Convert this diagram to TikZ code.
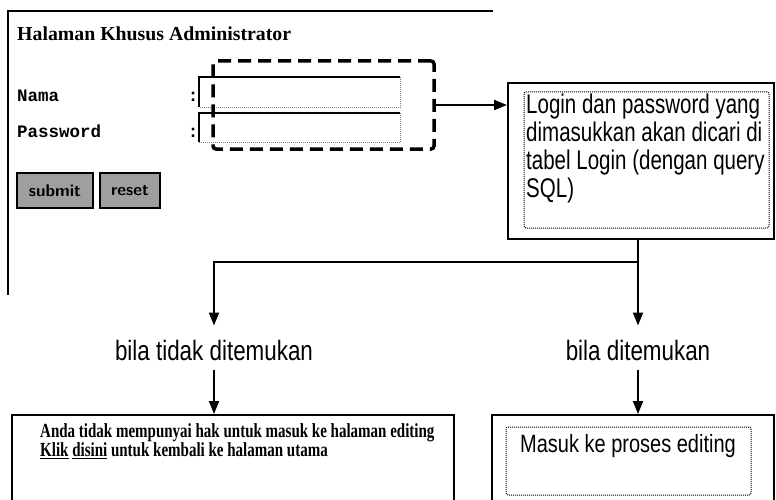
\documentclass[tikz,border=0pt]{standalone}
\usepackage{fontspec}
\setmainfont{Liberation Serif}
\newfontfamily\narrowsans[FakeStretch=0.8]{Liberation Sans}
\newfontfamily\boxsans[FakeStretch=0.76]{Liberation Sans}
\newfontfamily\formmono{Liberation Mono}
\newfontfamily\condserif[FakeStretch=0.75]{Liberation Serif}
\usetikzlibrary{arrows.meta,positioning}

\begin{document}
\begin{tikzpicture}[x=1pt,y=-1pt,
  every node/.style={inner sep=0pt},
  line/.style={line width=2pt},
  flow/.style={line width=2pt,-{Triangle[length=13pt,width=10pt]}},
  outerbox/.style={draw,line width=2pt},
  innerbox/.style={draw,densely dotted,line width=1pt,rounded corners=2pt},
  dashbox/.style={draw,line width=3.5pt,dash pattern=on 13pt off 7pt,rounded corners=3pt},
  field/.style={minimum width=201pt,minimum height=30pt},
  formfont/.style={font=\formmono\bfseries\fontsize{17.5}{18}\selectfont},
  button/.style={draw,line width=1.5pt,fill=gray!75,minimum height=35pt,font=\sffamily\bfseries\fontsize{17}{17}\selectfont},
  casetext/.style={font=\narrowsans\fontsize{28}{28}\selectfont}]
\useasboundingbox (0,0) rectangle (776,500);
\clip (0,0) rectangle (776,500);
% halaman login
\draw [line width=1.5pt] (493,11) -- (8,11) -- (8,295);
\node [anchor=base west,font=\bfseries\fontsize{19.8}{20}\selectfont] (judul) at (17,41) {Halaman Khusus Administrator};
\node [anchor=base west,formfont] (nama) at (17,102) {Nama};
\node [anchor=base west,formfont] (pass) at (17,138) {Password};
\node [anchor=base,formfont] (titik1) at (193,102) {:};
\node [anchor=base,formfont] (titik2) at (193,138) {:};
\node [field] (fnama) at (299.5,92) {};
\node [field,minimum height=29pt] (fpass) at (299.5,127.5) {};
\draw [line width=2pt] (fnama.south west) |- (fnama.north east);
\draw [gray,densely dotted,line width=1pt] (fnama.north east) |- (fnama.south west);
\draw [line width=2pt] (fpass.south west) |- (fpass.north east);
\draw [gray,densely dotted,line width=1pt] (fpass.north east) |- (fpass.south west);
\node [dashbox,minimum width=221pt,minimum height=88pt] (isian) at (323.5,105) {};
\node [button,minimum width=76pt] (submit) at (55,190.5) {submit};
\node [button,minimum width=60pt] (reset) at (130,190.5) {reset};
% cek login
\node [outerbox,minimum width=266pt,minimum height=156pt] (cari) at (641,161) {};
\node [innerbox,minimum width=245pt,minimum height=136pt] (cariin) at (646.5,160) {};
\node [anchor=north west,align=left,font=\boxsans\fontsize{27}{28}\selectfont] (caritext) at (526,94)
  {Login dan password yang\\dimasukkan akan dicari di\\tabel Login (dengan query\\SQL)};
\draw [flow] (isian.east) -- (cari.west |- isian.east);
% cabang hasil
\coordinate (cabang) at (638,262);
\node [casetext] (tidak) at (214,350) {bila tidak ditemukan};
\node [casetext] (ada) at (638,350) {bila ditemukan};
\draw [line] (cari.south -| cabang) -- (cabang);
\draw [flow] (cabang) -| ([yshift=14pt]tidak.north);
\draw [flow] (cabang) -- ([yshift=14pt]ada.north);
\node [outerbox,minimum width=442pt,minimum height=90pt] (tolak) at (233,460) {};
\node [anchor=north west,align=left,font=\condserif\bfseries\fontsize{20}{15}\selectfont] (tolaktext) at (40,423)
  {Anda tidak mempunyai hak untuk masuk ke halaman editing\\\underline{Klik} \underline{disini} untuk kembali ke halaman utama};
\node [outerbox,minimum width=282pt,minimum height=90pt] (masuk) at (633,460) {};
\node [innerbox,minimum width=245pt,minimum height=68pt] (masukin) at (628.5,461) {};
\node [anchor=base,font=\narrowsans\fontsize{25}{26}\selectfont] (masuktext) at (628,452) {Masuk ke proses editing};
\draw [flow] ([yshift=-10pt]tidak.south) -- (tidak.south |- tolak.north);
\draw [flow] ([yshift=-10pt]ada.south) -- (ada.south |- masuk.north);
\end{tikzpicture}
\end{document}
